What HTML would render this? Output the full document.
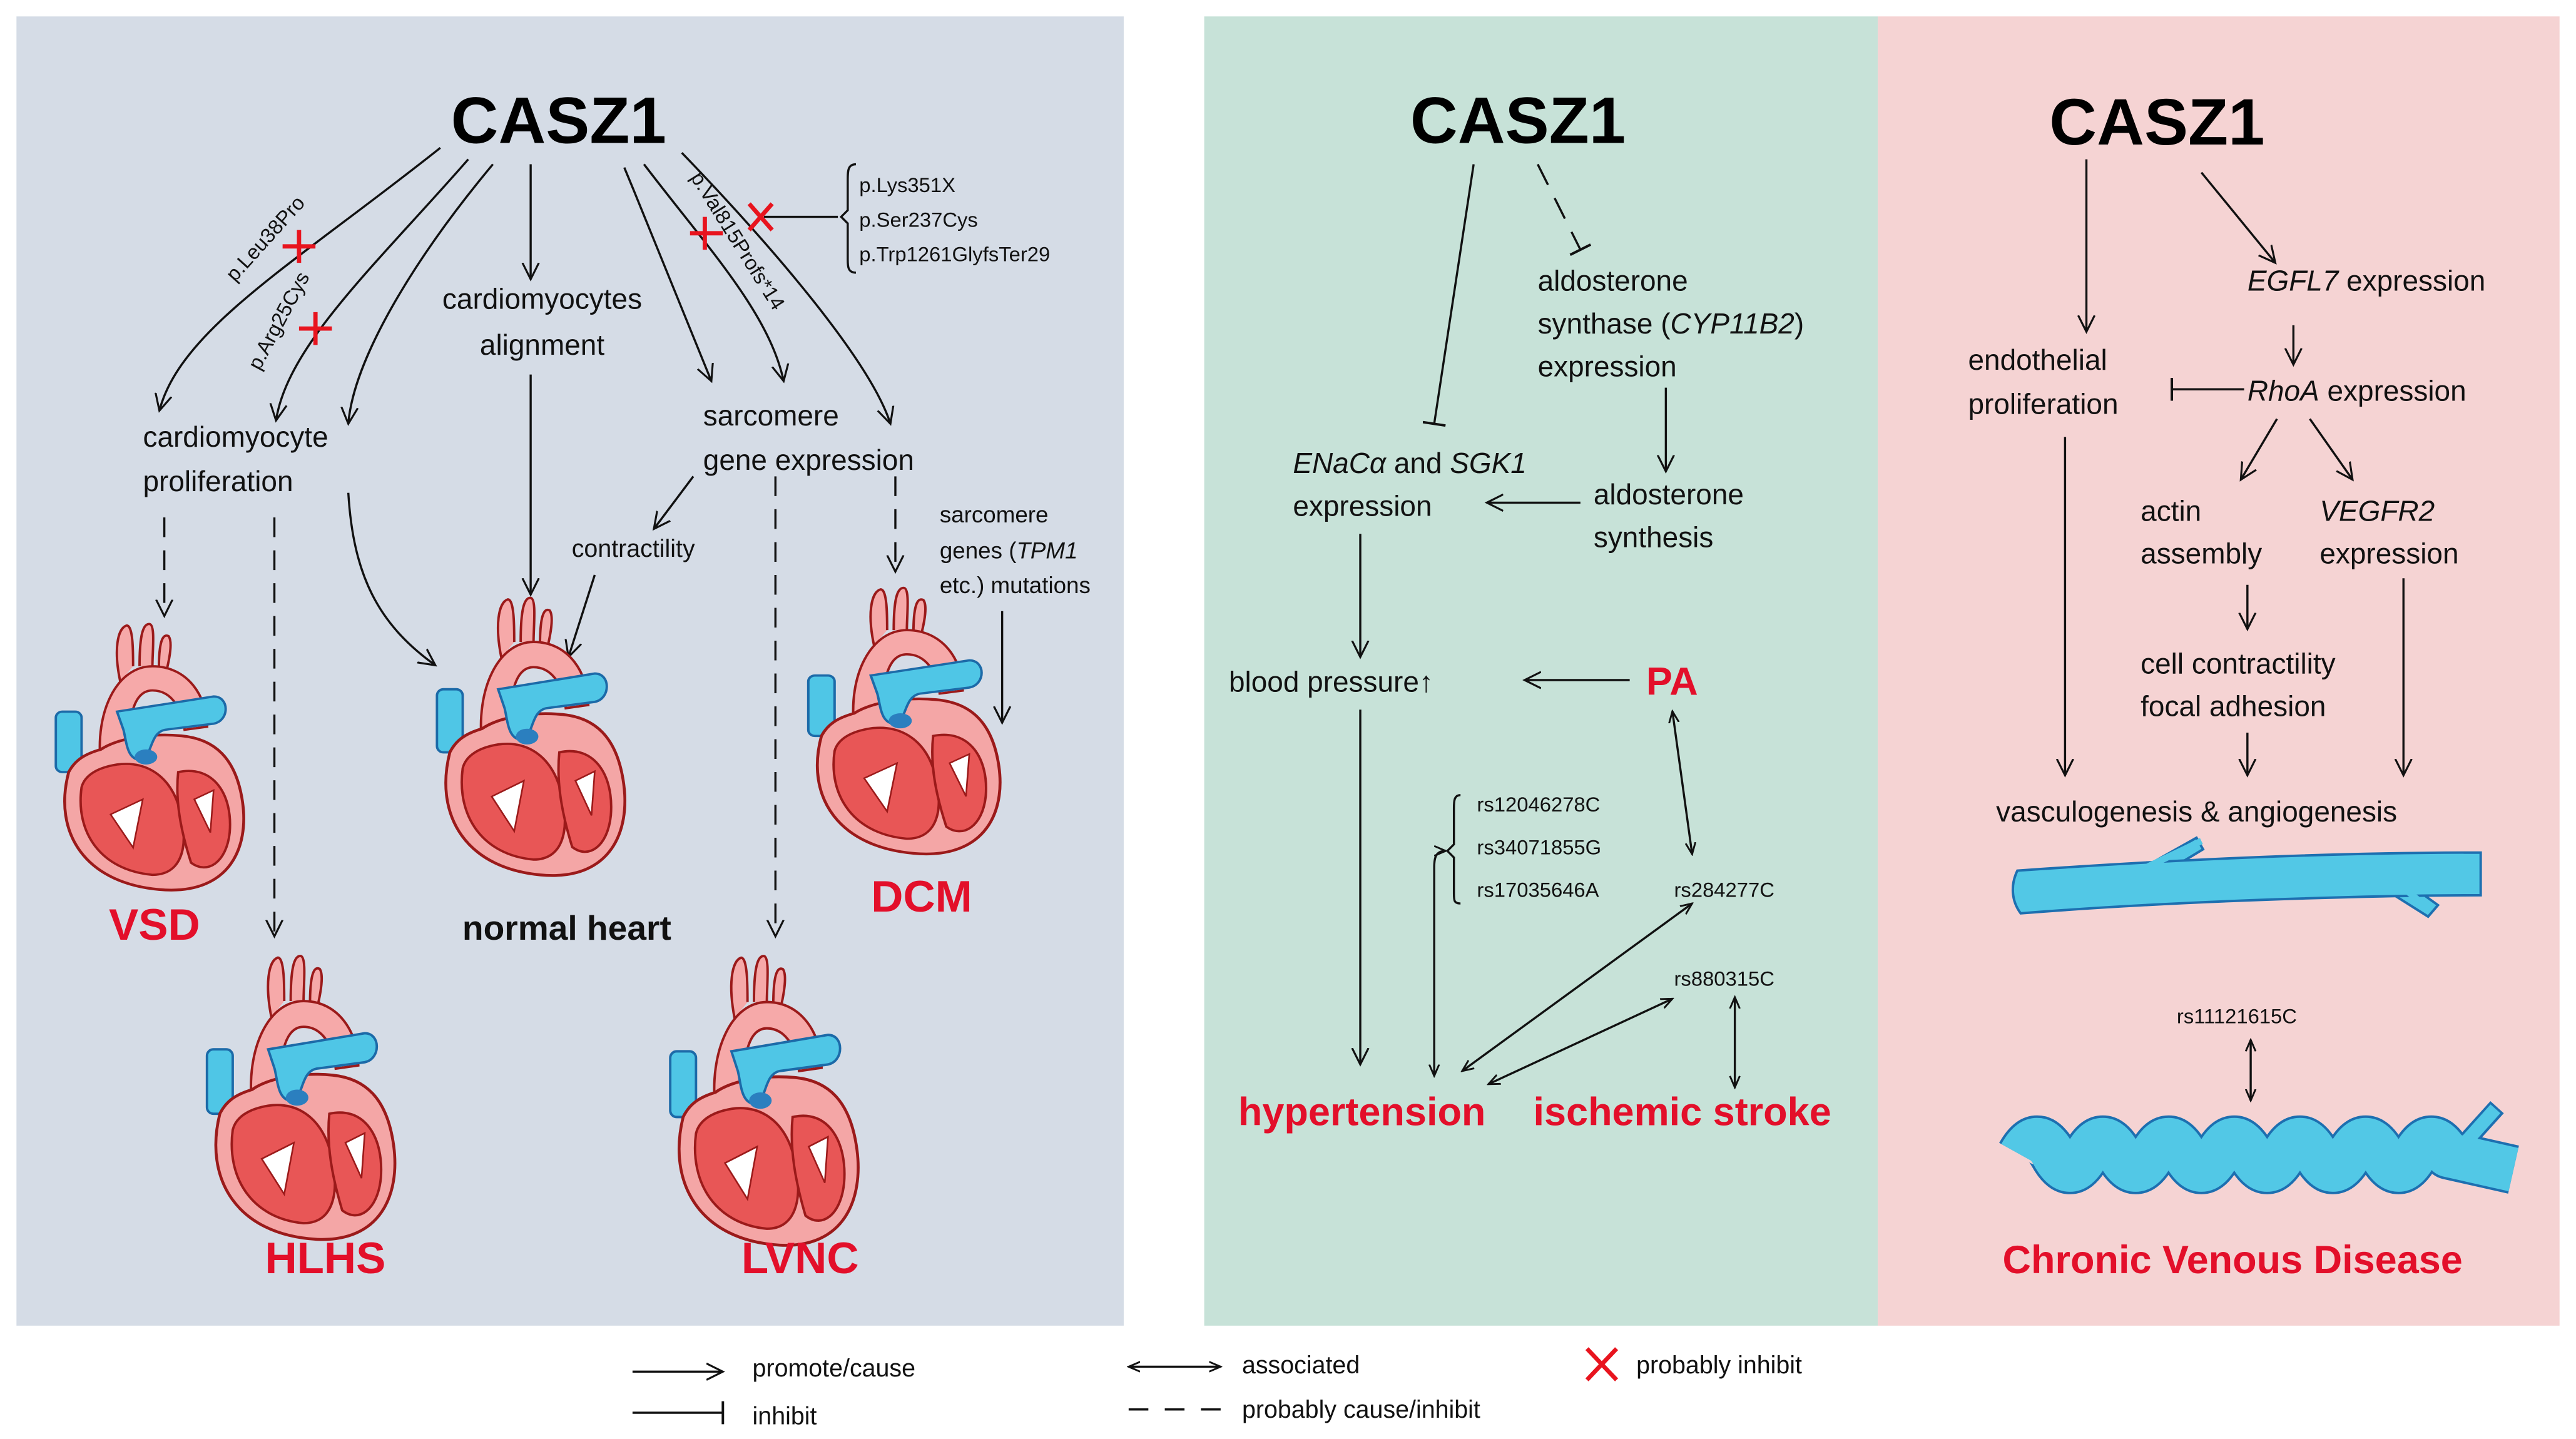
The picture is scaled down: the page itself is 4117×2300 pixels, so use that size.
<!DOCTYPE html>
<html><head><meta charset="utf-8"><style>
html,body{margin:0;padding:0;background:#fff}
svg{display:block}
text{font-family:"Liberation Sans",sans-serif;fill:#111}
.t{font-size:17.5px}
.s{font-size:12.5px}
.c{font-size:40px;font-weight:bold;fill:#000}
.r{fill:#e30f2a;font-weight:bold}
.l{font-size:15px}
</style></head><body>
<svg width="4117" height="2300" viewBox="0 0 1568 876" xmlns="http://www.w3.org/2000/svg">
<defs>
<marker id="a" markerWidth="12" markerHeight="12" refX="10" refY="6" orient="auto" markerUnits="userSpaceOnUse"><path d="M0,1 L10,6 L0,11" fill="none" stroke="#111" stroke-width="1.2"/></marker>
<marker id="as" markerWidth="8" markerHeight="8" refX="7" refY="4" orient="auto-start-reverse" markerUnits="userSpaceOnUse"><path d="M0,1 L7,4 L0,7" fill="none" stroke="#111" stroke-width="1.1"/></marker>
<marker id="b" markerWidth="4" markerHeight="14" refX="2" refY="7" orient="auto" markerUnits="userSpaceOnUse"><path d="M2,0 L2,14" stroke="#111" stroke-width="1.5"/></marker>
<g id="heart">
<path d="M42,40 C38,20 40,5 46,3 C50,3 50,20 50,30 M54,30 C54,10 56,2 60,2 C64,2 62,20 62,30 M66,32 C66,15 68,8 72,10 C75,14 72,28 70,36" fill="#f6a9a9" stroke="#9b1a1a" stroke-width="1.5"/>
<path d="M30,95 C26,60 40,30 62,30 C84,30 96,50 96,70 L82,72 C80,55 72,46 62,46 C50,46 46,65 48,95Z" fill="#f6a9a9" stroke="#9b1a1a" stroke-width="1.5"/>
<rect x="2" y="60" width="16" height="40" rx="4" fill="#4fc6e6" stroke="#1c6aa8" stroke-width="1.5"/>
<path d="M10,100 C0,140 20,175 70,178 C110,180 122,150 118,120 C114,90 100,78 80,76 C60,74 40,78 30,85 C20,88 14,92 10,100Z" fill="#f4a6a6" stroke="#9b1a1a" stroke-width="1.8"/>
<path d="M18,110 C14,140 30,165 62,168 C80,168 84,150 80,130 C76,105 60,92 40,95 C28,97 20,102 18,110Z" fill="#e85656" stroke="#9b1a1a" stroke-width="1.5"/>
<path d="M78,100 C100,95 112,115 110,140 C108,160 96,168 86,160 C80,140 76,120 78,100Z" fill="#e85656" stroke="#9b1a1a" stroke-width="1.5"/>
<path d="M36,128 L56,118 L50,150Z M88,118 L100,112 L98,140Z" fill="#fff" stroke="#9b1a1a" stroke-width="1"/>
<path d="M40,60 L100,50 C110,50 110,66 100,68 L70,72 C60,74 62,90 55,92 C46,92 46,80 44,72Z" fill="#4fc6e6" stroke="#1c6aa8" stroke-width="1.5"/>
<ellipse cx="58" cy="90" rx="7" ry="5" fill="#2b7fbf"/>
</g>
</defs>
<!-- panels -->
<rect x="10" y="10" width="674" height="797" fill="#d5dce6"/>
<rect x="733" y="10" width="410" height="797" fill="#c7e2d8"/>
<rect x="1143" y="10" width="415" height="797" fill="#f5d3d3"/>

<!-- LEFT -->
<text class="c" x="340" y="87" text-anchor="middle">CASZ1</text>
<g fill="none" stroke="#111" stroke-width="1.3">
<path d="M268,90 C180,160 110,200 97,250" marker-end="url(#a)"/>
<path d="M285,97 C230,160 175,210 168,256" marker-end="url(#a)"/>
<path d="M300,100 C250,160 215,220 212,258" marker-end="url(#a)"/>
<path d="M323,100 L323,170" marker-end="url(#a)"/>
<path d="M380,102 C400,150 420,200 433,232" marker-end="url(#a)"/>
<path d="M392,100 C430,150 468,190 477,232" marker-end="url(#a)"/>
<path d="M415,93 C470,150 530,220 542,258" marker-end="url(#a)"/>
<path d="M465,132 L510,132"/>
<path d="M521,100 C516,100 516,104 516,110 L516,128 L512,132 L516,136 L516,158 C516,162 516,166 521,166"/>
<path d="M323,228 L323,362" marker-end="url(#a)"/>
<path d="M422,290 L398,322" marker-end="url(#a)"/>
<path d="M362,350 L346,400" marker-end="url(#a)"/>
<path d="M212,300 C215,350 230,380 265,405" marker-end="url(#a)"/>
<path d="M610,372 L610,440" marker-end="url(#a)"/>
<g stroke-dasharray="12,8">
<path d="M100,315 L100,375" marker-end="url(#a)"/>
<path d="M167,315 L167,570" marker-end="url(#a)"/>
<path d="M472,290 L472,570" marker-end="url(#a)"/>
<path d="M545,290 L545,348" marker-end="url(#a)"/>
</g>
</g>
<g stroke="#e8141e" stroke-width="2.6" fill="none">
<path d="M172,150 L192,150 M182,140 L182,160"/>
<path d="M182,200 L202,200 M192,190 L192,210"/>
<path d="M420,142 L440,142 M429,132 L429,152"/>
<path d="M456,124 L470,140 M470,124 L456,140"/>
</g>
<text class="s" transform="translate(143,172) rotate(-48)">p.Leu38Pro</text>
<text class="s" transform="translate(158,226) rotate(-62)">p.Arg25Cys</text>
<text class="s" transform="translate(420,108) rotate(58)">p.Val815Profs*14</text>
<text class="s" x="523" y="117">p.Lys351X</text>
<text class="s" x="523" y="138">p.Ser237Cys</text>
<text class="s" x="523" y="159">p.Trp1261GlyfsTer29</text>
<text class="t" x="330" y="188" text-anchor="middle">cardiomyocytes</text>
<text class="t" x="330" y="216" text-anchor="middle">alignment</text>
<text class="t" x="87" y="272">cardiomyocyte</text>
<text class="t" x="87" y="299">proliferation</text>
<text class="t" x="428" y="259">sarcomere</text>
<text class="t" x="428" y="286">gene expression</text>
<text class="l" x="348" y="339">contractility</text>
<text class="s" x="572" y="318" style="font-size:14px">sarcomere</text>
<text class="s" x="572" y="340" style="font-size:14px">genes (<tspan font-style="italic">TPM1</tspan></text>
<text class="s" x="572" y="361" style="font-size:14px">etc.) mutations</text>
<use href="#heart" transform="translate(32,378) scale(0.98,0.92)"/>
<use href="#heart" transform="translate(264,362) scale(0.98,0.96)"/>
<use href="#heart" transform="translate(490,356) scale(1,0.92)"/>
<use href="#heart" transform="translate(124,580) scale(0.98,0.98)"/>
<use href="#heart" transform="translate(406,580) scale(0.98,1.0)"/>
<text class="r" x="94" y="572" text-anchor="middle" font-size="27">VSD</text>
<text x="345" y="572" text-anchor="middle" font-size="21" font-weight="bold">normal heart</text>
<text class="r" x="561" y="555" text-anchor="middle" font-size="27">DCM</text>
<text class="r" x="198" y="775" text-anchor="middle" font-size="27">HLHS</text>
<text class="r" x="487" y="775" text-anchor="middle" font-size="27">LVNC</text>

<!-- MIDDLE -->
<text class="c" x="924" y="87" text-anchor="middle">CASZ1</text>
<g fill="none" stroke="#111" stroke-width="1.3">
<path d="M897,100 L873,258" marker-end="url(#b)"/>
<path d="M936,100 L962,152" stroke-dasharray="14,9" marker-end="url(#b)"/>
<path d="M1014,236 L1014,287" marker-end="url(#a)"/>
<path d="M962,306 L905,306" marker-end="url(#a)"/>
<path d="M828,325 L828,400" marker-end="url(#a)"/>
<path d="M992,414 L928,414" marker-end="url(#a)"/>
<path d="M828,432 L828,648" marker-end="url(#a)"/>
<path d="M889,484 C885,484 885,488 885,492 L885,514 L881,518 L885,522 L885,544 C885,548 885,550 889,550"/>
<path d="M880,518 C874,518 873,522 873,528 L873,655" marker-start="url(#as)" marker-end="url(#as)"/>
<path d="M1018,433 L1030,520" marker-start="url(#as)" marker-end="url(#as)"/>
<path d="M1030,550 L890,652" marker-start="url(#as)" marker-end="url(#as)"/>
<path d="M1018,608 L906,660" marker-start="url(#as)" marker-end="url(#as)"/>
<path d="M1056,607 L1056,662" marker-start="url(#as)" marker-end="url(#as)"/>
</g>
<text class="t" x="936" y="177">aldosterone</text>
<text class="t" x="936" y="203">synthase (<tspan font-style="italic">CYP11B2</tspan>)</text>
<text class="t" x="936" y="229">expression</text>
<text class="t" x="970" y="307">aldosterone</text>
<text class="t" x="970" y="333">synthesis</text>
<text class="t" x="787" y="288"><tspan font-style="italic">ENaCα</tspan> and <tspan font-style="italic">SGK1</tspan></text>
<text class="t" x="787" y="314">expression</text>
<text class="t" x="748" y="421">blood pressure↑</text>
<text class="r" x="1002" y="423" font-size="24">PA</text>
<text class="s" x="899" y="494">rs12046278C</text>
<text class="s" x="899" y="520">rs34071855G</text>
<text class="s" x="899" y="546">rs17035646A</text>
<text class="s" x="1019" y="546">rs284277C</text>
<text class="s" x="1019" y="600">rs880315C</text>
<text class="r" x="829" y="685" text-anchor="middle" font-size="24">hypertension</text>
<text class="r" x="1024" y="685" text-anchor="middle" font-size="24">ischemic stroke</text>

<!-- RIGHT -->
<text class="c" x="1313" y="88" text-anchor="middle">CASZ1</text>
<g fill="none" stroke="#111" stroke-width="1.3">
<path d="M1270,97 L1270,202" marker-end="url(#a)"/>
<path d="M1340,105 L1385,160" marker-end="url(#a)"/>
<path d="M1396,198 L1396,222" marker-end="url(#a)"/>
<path d="M1366,237 L1322,237" marker-end="url(#b)"/>
<path d="M1257,266 L1257,472" marker-end="url(#a)"/>
<path d="M1386,255 L1364,292" marker-end="url(#a)"/>
<path d="M1406,255 L1432,292" marker-end="url(#a)"/>
<path d="M1368,356 L1368,383" marker-end="url(#a)"/>
<path d="M1368,446 L1368,472" marker-end="url(#a)"/>
<path d="M1463,352 L1463,472" marker-end="url(#a)"/>
<path d="M1370,633 L1370,670" marker-start="url(#as)" marker-end="url(#as)"/>
</g>
<text class="t" x="1368" y="177"><tspan font-style="italic">EGFL7</tspan> expression</text>
<text class="t" x="1368" y="244"><tspan font-style="italic">RhoA</tspan> expression</text>
<text class="t" x="1198" y="225">endothelial</text>
<text class="t" x="1198" y="252">proliferation</text>
<text class="t" x="1303" y="317">actin</text>
<text class="t" x="1303" y="343">assembly</text>
<text class="t" x="1412" y="317" font-style="italic">VEGFR2</text>
<text class="t" x="1412" y="343">expression</text>
<text class="t" x="1303" y="410">cell contractility</text>
<text class="t" x="1303" y="436">focal adhesion</text>
<text class="t" x="1215" y="500">vasculogenesis &amp; angiogenesis</text>
<!-- vessel -->
<g fill="#52c8e6" stroke="#1d6fb0" stroke-width="1.5">
<path d="M1296,533 L1337,510 L1341,517 L1303,540Z"/>
<path d="M1440,534 L1478,558 L1484,551 L1452,528Z"/>
<path d="M1228,530 C1300,525 1400,519 1510,519 L1510,545 C1450,545 1330,548 1230,556 C1224,548 1224,538 1228,530Z"/>
</g>
<path d="M1296,533 L1340,512" stroke="#52c8e6" stroke-width="4"/>
<path d="M1460,538 L1478,553" stroke="#52c8e6" stroke-width="4"/>
<path d="M1440,532 L1450,536" stroke="#52c8e6" stroke-width="3"/>
<text class="s" x="1325" y="623">rs11121615C</text>
<!-- vein -->
<g fill="none" stroke-linejoin="round">
<path d="M1492,705 L1520,674" stroke="#1d6fb0" stroke-width="11"/>
<path d="M1230,703 q10,-18 20,0 t20,0 t20,0 t20,0 t20,0 t20,0 t20,0 t20,0 t20,0 t20,0 t20,0 t20,0 t20,0 L1530,712" stroke="#1d6fb0" stroke-width="30"/>
<path d="M1493,704 L1519,675" stroke="#52c8e6" stroke-width="8"/>
<path d="M1230,703 q10,-18 20,0 t20,0 t20,0 t20,0 t20,0 t20,0 t20,0 t20,0 t20,0 t20,0 t20,0 t20,0 t20,0 L1530,712" stroke="#52c8e6" stroke-width="27"/>
</g>
<text class="r" x="1359" y="775" text-anchor="middle" font-size="24">Chronic Venous Disease</text>

<!-- LEGEND -->
<g fill="none" stroke="#111" stroke-width="1.3">
<path d="M385,835 L440,835" marker-end="url(#a)"/>
<path d="M385,860 L440,860" marker-end="url(#b)"/>
<path d="M687,832 L743,832" marker-start="url(#as)" marker-end="url(#as)"/>
<path d="M687,858 L743,858" stroke-dasharray="12,10"/>
</g>
<path d="M966,821 L984,840 M984,821 L966,840" stroke="#e8141e" stroke-width="2.6"/>
<text class="l" x="458" y="838">promote/cause</text>
<text class="l" x="458" y="867">inhibit</text>
<text class="l" x="756" y="836">associated</text>
<text class="l" x="756" y="863">probably cause/inhibit</text>
<text class="l" x="996" y="836">probably inhibit</text>
</svg>
</body></html>
